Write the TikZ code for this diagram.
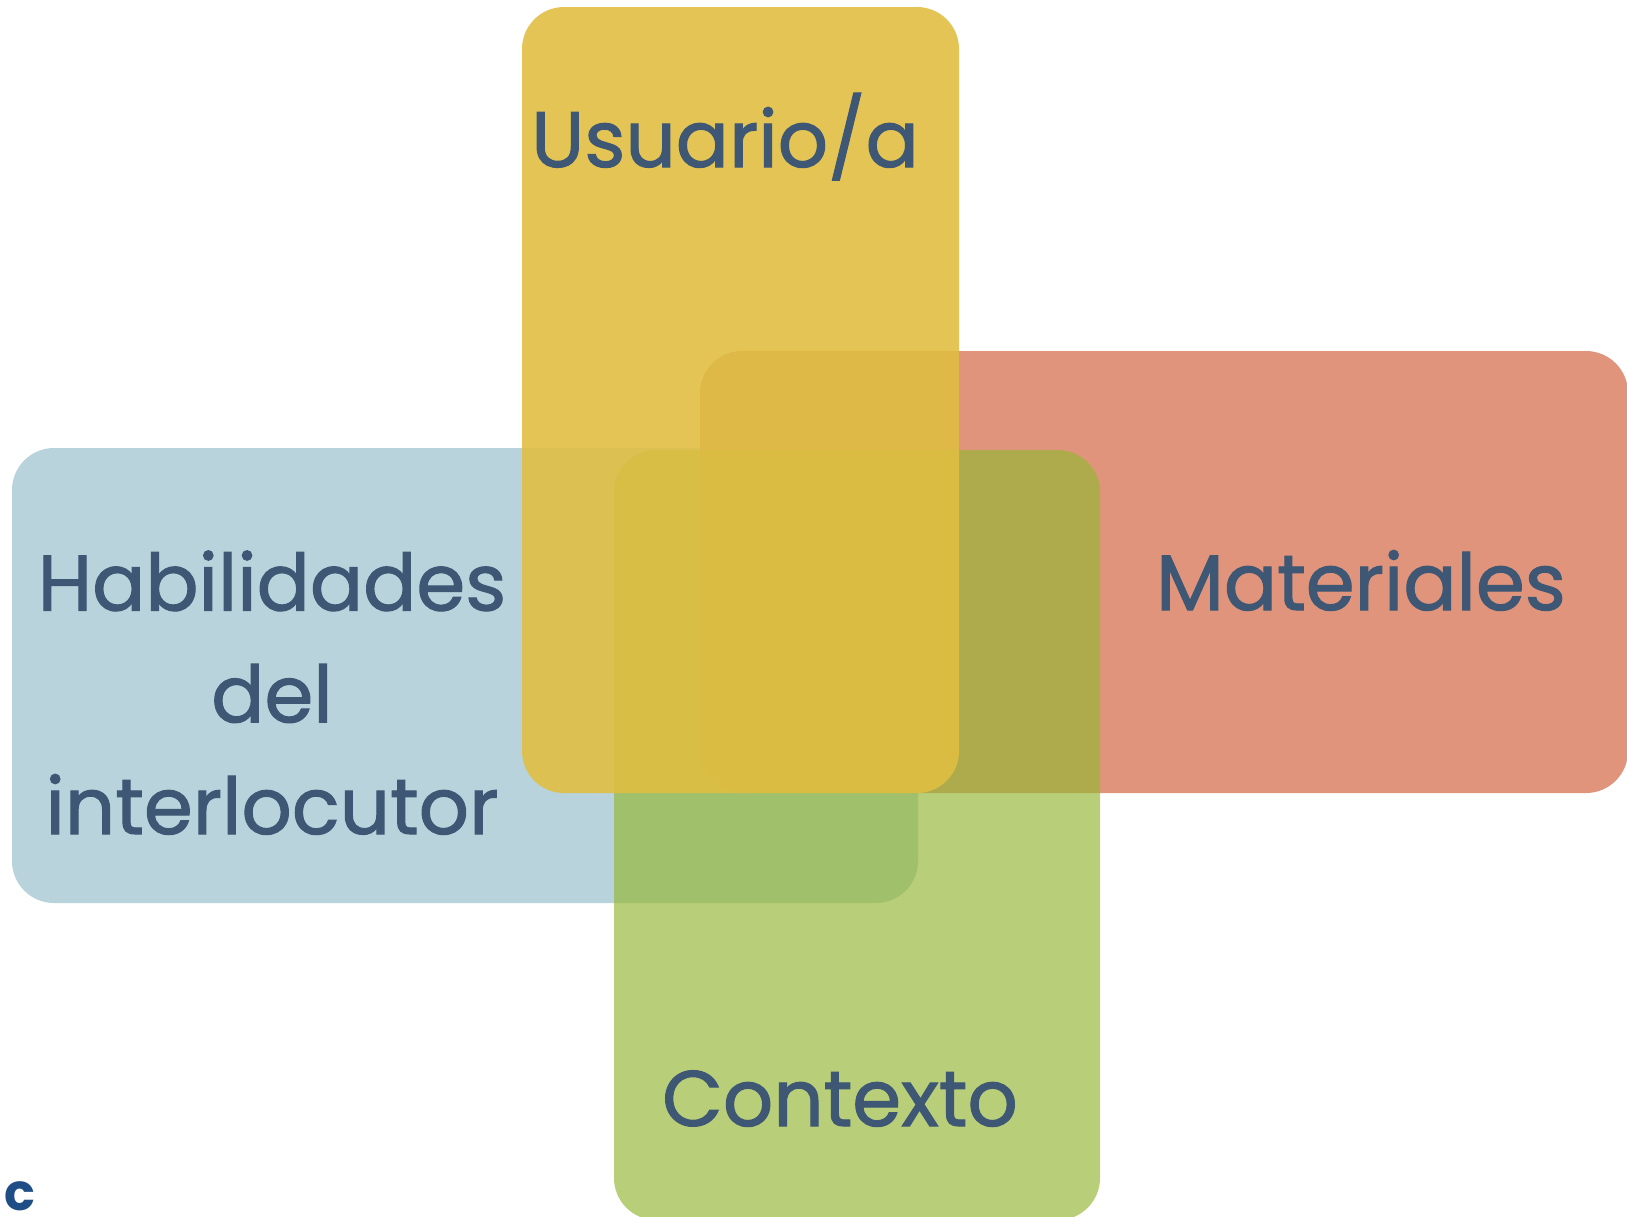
\documentclass[tikz,border=0pt]{standalone}
\usepackage{fontspec}
\setmainfont{Poppins}
\newfontfamily\lblfont{Poppins}[RawFeature={embolden=1.3}]
\definecolor{habcol}{HTML}{B8D3DB}
\definecolor{matcol}{HTML}{DF947B}
\definecolor{concol}{HTML}{97B738}
\definecolor{usucol}{HTML}{E0BE42}
\definecolor{txtcol}{HTML}{3D5774}
\definecolor{ccol}{HTML}{1F4E86}

\begin{document}
\begin{tikzpicture}[x=0.1mm,y=-0.1mm,
  box/.style={rounded corners=4.2mm},
  lbl/.style={text=txtcol,font=\lblfont\fontsize{22.4}{31.8}\selectfont,inner sep=0pt,anchor=base,align=center}]
  \useasboundingbox (0,0) rectangle (1627,1216);
  \clip (0,0) rectangle (1627,1216);
  \fill[box,habcol] (12,448) rectangle (918,903);
  \fill[box,matcol] (700,351) rectangle (1628,793);
  \fill[box,concol,fill opacity=0.68] (614,450) rectangle (1100,1220);
  \fill[box,usucol,fill opacity=0.9] (522,7) rectangle (959,793);
  \node[lbl] (usuario) at (725,167) {Usuario/a};
  \node[lbl] (materiales) at (1361,610) {Materiales};
  \node[lbl] (habilidades) at (272,834) {Habilidades\\del\\interlocutor};
  \node[lbl] (contexto) at (840,1126) {Contexto};
  \node[text=ccol,font=\fontsize{14.5}{15}\bfseries\selectfont,inner sep=0pt,anchor=north west] (frag) at (4,1181) {c};
\end{tikzpicture}
\end{document}
